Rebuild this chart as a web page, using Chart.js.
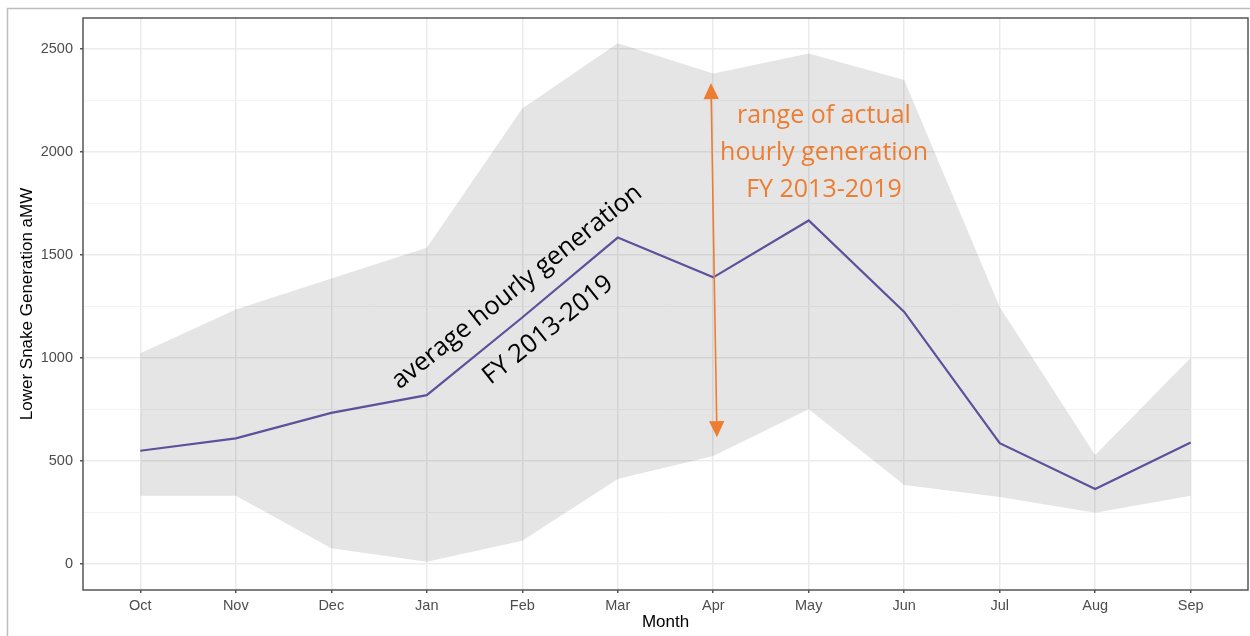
<!DOCTYPE html>
<html><head><meta charset="utf-8">
<script src="https://cdn.jsdelivr.net/npm/chart.js@4.4.1/dist/chart.umd.min.js"></script>
<style>html,body{margin:0;padding:0;background:#fff;overflow:hidden}#wrap{width:1250px;height:636px;position:relative}</style>
</head><body><div id="wrap"><canvas id="c" width="1250" height="636"></canvas></div>
<script>
// ---- data ----
const months = ['Oct','Nov','Dec','Jan','Feb','Mar','Apr','May','Jun','Jul','Aug','Sep'];
const avgGen = [550, 610, 734, 820, 1197, 1585, 1392, 1668, 1224, 587, 364, 590];
const maxGen = [1023, 1236, 1386, 1536, 2212, 2528, 2382, 2479, 2350, 1248, 529, 1002];
const minGen = [332, 332, 77, 11, 113, 413, 524, 751, 384, 325, 249, 332];
const yTickValues = [0, 250, 500, 750, 1000, 1250, 1500, 1750, 2000, 2250, 2500];
const yLabelValues = [0, 500, 1000, 1500, 2000, 2500];
const yTitle = 'Lower Snake Generation aMW';
const xTitle = 'Month';
const avgLabelLines = ['average hourly generation', 'FY 2013-2019'];
const rangeLabelLines = ['range of actual', 'hourly generation', 'FY 2013-2019'];

const pts = arr => arr.map((v, i) => ({x: i, y: v}));
const ORANGE = '#ED7D31';
const ANNOT_FONT = '"Open Sans", Lato, sans-serif';

function fitFont(ctx, text, targetW) {
  ctx.font = '100px ' + ANNOT_FONT;
  const w = ctx.measureText(text).width;
  return 100 * targetW / w;
}

const decor = {
  id: 'decor',
  afterDraw(chart) {
    const ctx = chart.ctx, a = chart.chartArea, sx = chart.scales.x, sy = chart.scales.y;
    ctx.save();
    // outer frame
    ctx.strokeStyle = '#BDBDBD'; ctx.lineWidth = 1.5;
    ctx.beginPath(); ctx.moveTo(7.5, 640); ctx.lineTo(7.5, 8.5); ctx.lineTo(1255, 8.5); ctx.stroke();
    // panel border
    ctx.strokeStyle = '#555555'; ctx.lineWidth = 1.5;
    ctx.strokeRect(a.left, a.top, a.right - a.left, a.bottom - a.top);

    // double arrow
    const x1 = sx.getPixelForValue(5.976), y1 = sy.getPixelForValue(2335);
    const x2 = sx.getPixelForValue(6.039), y2 = sy.getPixelForValue(616);
    const dx = x2 - x1, dy = y2 - y1, L = Math.hypot(dx, dy), ux = dx / L, uy = dy / L;
    const hl = 16, hw = 7.7;
    ctx.strokeStyle = ORANGE; ctx.fillStyle = ORANGE; ctx.lineWidth = 1.6;
    ctx.beginPath(); ctx.moveTo(x1 + ux * hl, y1 + uy * hl); ctx.lineTo(x2 - ux * hl, y2 - uy * hl); ctx.stroke();
    const head = (tx, ty, dirx, diry) => {
      const bx = tx + dirx * hl, by = ty + diry * hl;
      ctx.beginPath(); ctx.moveTo(tx, ty);
      ctx.lineTo(bx - diry * hw, by + dirx * hw);
      ctx.lineTo(bx + diry * hw, by - dirx * hw);
      ctx.closePath(); ctx.fill();
    };
    head(x1, y1, ux, uy);
    head(x2, y2, -ux, -uy);

    // orange text
    const oSize = fitFont(ctx, rangeLabelLines[1], 208);
    ctx.font = oSize + 'px ' + ANNOT_FONT;
    ctx.textAlign = 'center'; ctx.textBaseline = 'alphabetic';
    const ocx = sx.getPixelForValue(7.16);
    const oVals = [2141, 1961, 1782];
    rangeLabelLines.forEach((t, i) => ctx.fillText(t, ocx, sy.getPixelForValue(oVals[i])));

    // black rotated text
    const bSize = fitFont(ctx, avgLabelLines[0], 312);
    ctx.font = bSize + 'px ' + ANNOT_FONT;
    ctx.fillStyle = '#000000'; ctx.textBaseline = 'middle';
    const bPos = [[3.945, 1345], [4.27, 1136]];
    avgLabelLines.forEach((t, i) => {
      ctx.save();
      ctx.translate(sx.getPixelForValue(bPos[i][0]), sy.getPixelForValue(bPos[i][1]));
      ctx.rotate(-38.5 * Math.PI / 180);
      ctx.fillText(t, 0, 0);
      ctx.restore();
    });
    ctx.restore();
  }
};

const tickFont = {family: '"Liberation Sans", Arial, sans-serif', size: 14.5};
const titleFont = {family: '"Liberation Sans", Arial, sans-serif', size: 17};

new Chart(document.getElementById('c'), {
  type: 'line',
  data: {
    datasets: [
      {label: 'avg', data: pts(avgGen), borderColor: '#5E509A', borderWidth: 2.2, pointRadius: 0, fill: false, tension: 0},
      {label: 'max', data: pts(maxGen), borderWidth: 0, borderColor: 'rgba(0,0,0,0)', pointRadius: 0, fill: '+1', backgroundColor: 'rgba(0,0,0,0.1)', tension: 0},
      {label: 'min', data: pts(minGen), borderWidth: 0, borderColor: 'rgba(0,0,0,0)', pointRadius: 0, fill: false, tension: 0}
    ]
  },
  options: {
    responsive: false, animation: false, devicePixelRatio: 1,
    layout: {padding: {left: 0, top: 18, right: 2, bottom: 0}},
    plugins: {legend: {display: false}, tooltip: {enabled: false}},
    scales: {
      x: {
        type: 'linear', min: -0.6, max: 11.6,
        afterBuildTicks: s => { s.ticks = months.map((m, i) => ({value: i})); },
        afterFit: s => { s.height = 46; },
        ticks: {callback: v => months[v], font: tickFont, color: '#4D4D4D', padding: 4, maxRotation: 0, autoSkip: false},
        grid: {color: '#EBEBEB', lineWidth: 1.5, tickColor: '#555555', tickLength: 3},
        border: {display: false},
        title: {display: true, text: xTitle, font: titleFont, color: '#000000', padding: {top: 0, bottom: 3}}
      },
      y: {
        type: 'linear', min: -126, max: 2651,
        afterBuildTicks: s => { s.ticks = yTickValues.map(v => ({value: v})); },
        afterFit: s => { s.width = 83; },
        ticks: {callback: v => yLabelValues.includes(v) ? String(v) : '', font: tickFont, color: '#4D4D4D', padding: 7, autoSkip: false},
        grid: {
          color: c => (c.tick && yLabelValues.includes(c.tick.value)) ? '#EBEBEB' : '#F3F3F3',
          lineWidth: c => (c.tick && yLabelValues.includes(c.tick.value)) ? 1.5 : 1,
          tickColor: c => (c.tick && yLabelValues.includes(c.tick.value)) ? '#555555' : 'rgba(0,0,0,0)',
          tickLength: 3
        },
        border: {display: false},
        title: {display: true, text: yTitle, font: titleFont, color: '#000000', padding: {top: 17, bottom: 0}}
      }
    }
  },
  plugins: [decor]
});
</script></body></html>
